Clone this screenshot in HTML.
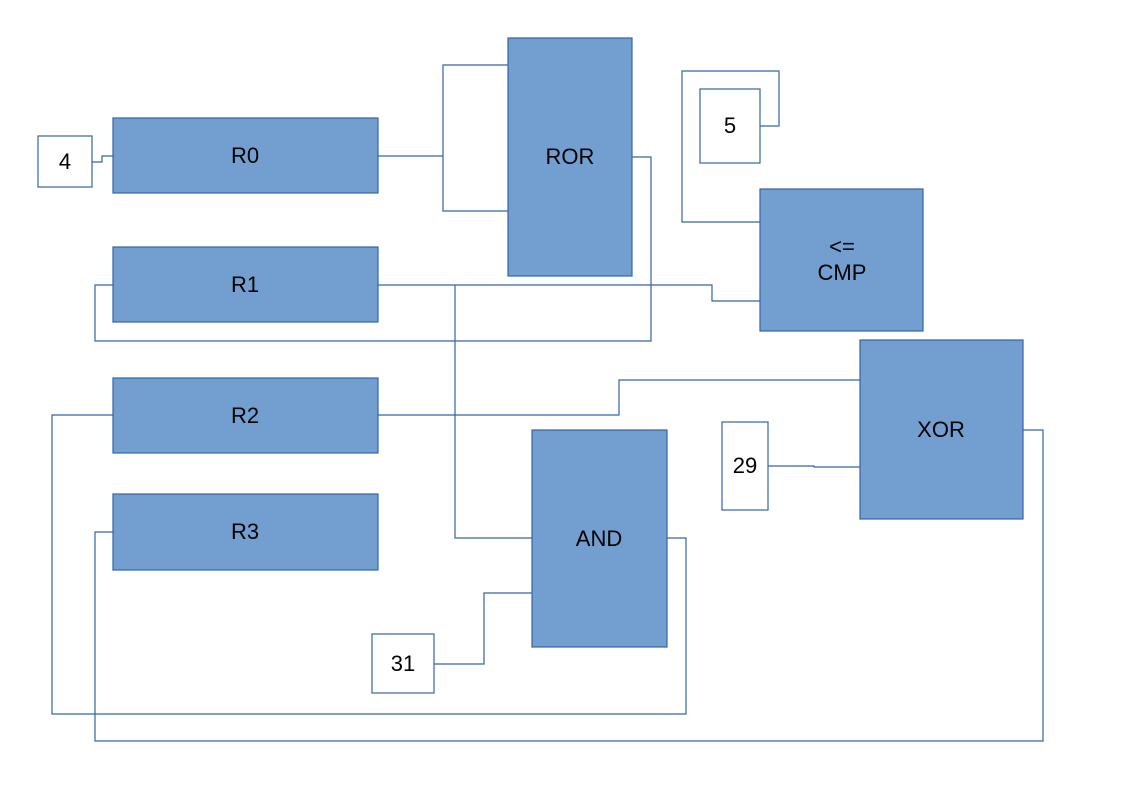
<!DOCTYPE html>
<html><head><meta charset="utf-8"><style>html,body{margin:0;padding:0;background:#fff}svg{display:block}</style></head>
<body>
<svg width="1123" height="794" xmlns="http://www.w3.org/2000/svg" font-family="Liberation Sans, sans-serif" font-size="22">
<rect width="1123" height="794" fill="#fff"/>
<g fill="none" stroke="#3465a4" stroke-width="1.2">
<polyline points="92,162 102,162 102,156 113,156"/>
<polyline points="378,156 443,156"/>
<polyline points="508,65 443,65 443,211 508,211"/>
<polyline points="632,157 651,157 651,341 95,341 95,285 113,285"/>
<polyline points="378,285 712,285 712,301 760,301"/>
<polyline points="455,285 455,538 532,538"/>
<polyline points="760,126 779,126 779,71 682,71 682,222 760,222"/>
<polyline points="378,415 619,415 619,380 860,380"/>
<polyline points="113,415 52,415 52,714 686,714 686,538 667,538"/>
<polyline points="768,466 814,466 814,467 860,467"/>
<polyline points="1023,430 1043,430 1043,741 95,741 95,532 113,532"/>
<polyline points="434,664 484,664 484,593 539,593"/>
</g>
<g stroke="#3465a4" stroke-width="1.2">
<rect x="38" y="136" width="54" height="51" fill="#fff"/>
<rect x="113" y="118" width="265" height="75" fill="#729fcf"/>
<rect x="508" y="38" width="124" height="238" fill="#729fcf"/>
<rect x="700" y="89" width="60" height="74" fill="#fff"/>
<rect x="760" y="189" width="163" height="142" fill="#729fcf"/>
<rect x="113" y="247" width="265" height="75" fill="#729fcf"/>
<rect x="113" y="378" width="265" height="75" fill="#729fcf"/>
<rect x="113" y="494" width="265" height="76" fill="#729fcf"/>
<rect x="860" y="340" width="163" height="179" fill="#729fcf"/>
<rect x="722" y="422" width="46" height="88" fill="#fff"/>
<rect x="532" y="430" width="135" height="217" fill="#729fcf"/>
<rect x="372" y="634" width="62" height="59" fill="#fff"/>
</g>
<g fill="#000" text-anchor="middle">
<text x="65" y="169">4</text>
<text x="245" y="163">R0</text>
<text x="570" y="164">ROR</text>
<text x="730" y="133">5</text>
<text x="842" y="254">&lt;=</text>
<text x="842" y="280">CMP</text>
<text x="245" y="292">R1</text>
<text x="245" y="423">R2</text>
<text x="245" y="539">R3</text>
<text x="941" y="437">XOR</text>
<text x="745" y="473">29</text>
<text x="599" y="546">AND</text>
<text x="403" y="671">31</text>
</g>
</svg>
</body></html>
